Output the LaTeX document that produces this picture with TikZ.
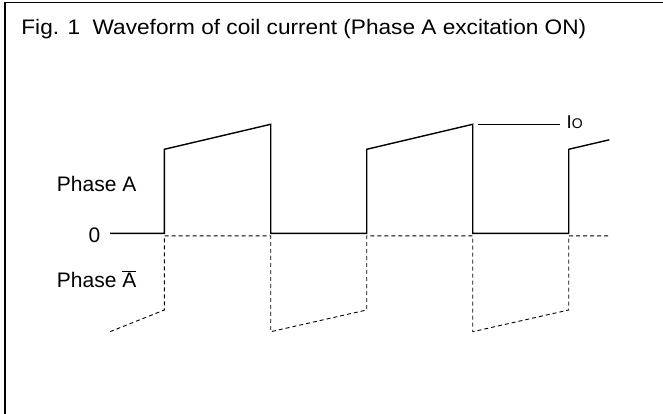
\documentclass[tikz,border=0pt]{standalone}
\usepackage{fontspec}
\usepackage{graphicx}
\setmainfont{Liberation Sans}
\begin{document}
\begin{tikzpicture}[x=1pt,y=-1pt,
  lbl/.style={anchor=base west,inner sep=0pt,font=\fontsize{21}{24}\selectfont},
  wave/.style={line width=1.4pt,line join=miter},
  neg/.style={line width=0.9pt,dash pattern=on 4pt off 3pt,black},
  frame/.style={line width=1.1pt}]
\useasboundingbox (0,0) rectangle (663,414);
\draw[frame] (5,414) -- (5,2.7) -- (663,2.7);
\node[lbl] (title) at (21.2,34.7) {\scalebox{1.078}[1]{Fig. 1\ \ Waveform of coil current (Phase A excitation ON)}};
\node[lbl] (pa) at (56.7,191.7) {Phase A};
\node[lbl] (zero) at (88.5,242.3) {0};
\node[lbl] (pab) at (56.7,287.3) {Phase $\overline{\mbox{A}}$};
\node[anchor=base west,inner sep=0pt,font=\fontsize{18.5}{20}\selectfont] (io) at (566.5,128.3) {I{\fontsize{14}{14}\selectfont O}};
% solid waveform (Phase A)
\coordinate (s0) at (110,233.3);
\coordinate (s1) at (164.3,233.3);
\coordinate (s2) at (164.3,149.3);
\coordinate (s3) at (270.7,124.3);
\coordinate (s4) at (270.7,233.3);
\coordinate (s5) at (366.7,233.3);
\coordinate (s6) at (366.7,149.3);
\coordinate (s7) at (472.7,124.3);
\coordinate (s8) at (472.7,233.3);
\coordinate (s9) at (568.7,233.3);
\coordinate (s10) at (568.7,149.3);
\coordinate (s11) at (609.3,139.8);
\draw[wave] (s0) -- (s1) -- (s2) -- (s3) -- (s4) -- (s5) -- (s6) -- (s7) -- (s8) -- (s9) -- (s10) -- (s11);
% Io marker line
\coordinate (ioa) at (478.3,124.3);
\coordinate (iob) at (560,124.3);
\draw[line width=1pt] (ioa) -- (iob);
% dashed waveform (Phase A bar)
\coordinate (d0) at (110,331.7);
\coordinate (d1) at (164.3,310);
\coordinate (d2) at (164.3,235.9);
\coordinate (d3) at (270.7,235.9);
\coordinate (d4) at (270.7,331.7);
\coordinate (d5) at (366.7,310);
\coordinate (d6) at (366.7,235.9);
\coordinate (d7) at (472.7,235.9);
\coordinate (d8) at (472.7,331.7);
\coordinate (d9) at (568.7,310);
\coordinate (d10) at (568.7,235.9);
\coordinate (d11) at (608,235.9);
\draw[neg] (d0) -- (d1) -- (d2) -- (d3) -- (d4) -- (d5) -- (d6) -- (d7) -- (d8) -- (d9) -- (d10) -- (d11);
\end{tikzpicture}
\end{document}
